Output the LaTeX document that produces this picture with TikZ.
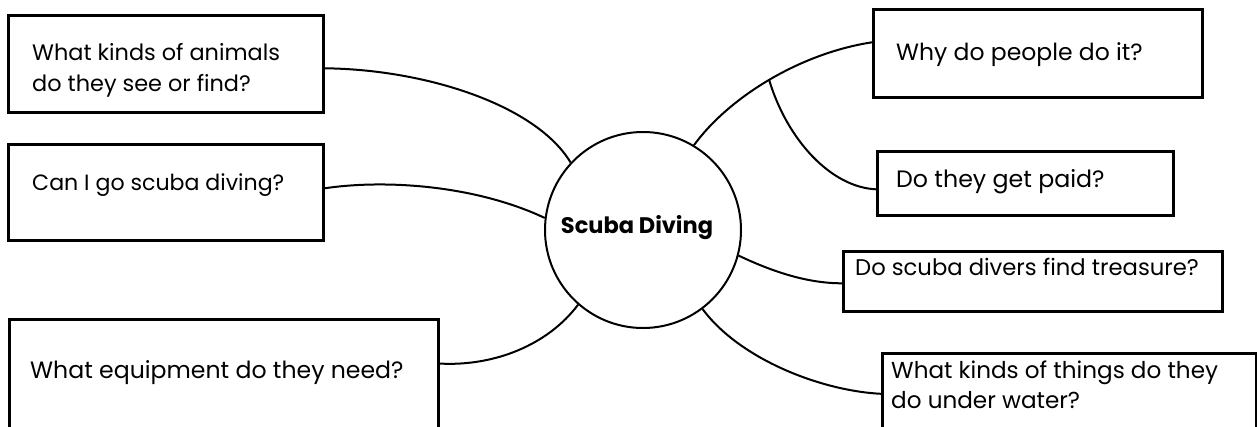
\documentclass[tikz,border=0pt]{standalone}
\usepackage{fontspec}
\setmainfont{Poppins}
\usetikzlibrary{calc}
\tikzset{
  qbox/.style={draw=black, line width=2.6pt, rectangle, inner sep=0pt, anchor=north west, fill=none},
  hub/.style={draw=black, line width=2pt, circle, inner sep=0pt, minimum size=196pt},
  qtext/.style={anchor=base west, inner sep=0pt, font=\fontsize{#1}{30}\selectfont, align=left},
  qtext/.default=23,
  hubtext/.style={font=\fontsize{22.5}{28}\selectfont\bfseries},
  link/.style={draw=black, line width=2pt}
}
\begin{document}
\begin{tikzpicture}[x=1pt, y=-1pt]
\useasboundingbox (0,0) rectangle (1257,426);
% boxes
\node[qbox, minimum width=315pt, minimum height=97pt] (a) at (7,14) {};
\node[qbox, minimum width=315pt, minimum height=96pt] (b) at (7,143) {};
\node[qbox, minimum width=429pt, minimum height=108.5pt] (c) at (8,318) {};
\node[qbox, minimum width=329pt, minimum height=88pt] (d) at (872,8) {};
\node[qbox, minimum width=296pt, minimum height=64pt] (e) at (876,150) {};
\node[qbox, minimum width=379pt, minimum height=60pt] (f) at (842,250) {};
\node[qbox, minimum width=374pt, minimum height=80pt] (g) at (881,352) {};
% hub
\node[hub] (hub) at (643,230) {};
\node[hubtext] (hubt) at (637,228) {Scuba Diving};
% texts
\node[qtext=22.4] (ta1) at (32,60) {What kinds of animals};
\node[qtext=22.4] (ta2) at (32,91) {do they see or find?};
\node[qtext=22.1] (tb) at (32,190) {Can I go scuba diving?};
\node[qtext=23.6] (tc) at (30,378) {What equipment do they need?};
\node[qtext=23.5] (td) at (896,60) {Why do people do it?};
\node[qtext=23.7] (te) at (896,187) {Do they get paid?};
\node[qtext=22.7] (tf) at (855,275) {Do scuba divers find treasure?};
\node[qtext=23.1] (tg1) at (891,378) {What kinds of things do they};
\node[qtext=23.1] (tg2) at (891,408) {do under water?};
% connectors
\draw[link] ([yshift=-4.5pt]a.east) .. controls +(100,1) and +(-35,-58) .. (hub.137.5);
\draw[link] ([yshift=4pt]b.east) .. controls +(60,-9) and +(-70,-33) .. (hub.173);
\draw[link] ([yshift=10pt]c.east) .. controls +(55,3) and +(-30,40) .. (hub.229);
\draw[link] (hub.59) .. controls +(35,-48) and +(-72,11) .. ([yshift=11pt]d.west) coordinate[pos=0.5] (br);
\draw[link] (br) .. controls +(18,60) and +(-45,-2) .. ([yshift=-6pt]e.west);
\draw[link] (hub.-15) .. controls +(38,18) and +(-32,0) .. ([yshift=-2pt]f.west);
\draw[link] (hub.-53) .. controls +(37,50) and +(-60,-3) .. ([yshift=-0.5pt]g.west);
\end{tikzpicture}
\end{document}
